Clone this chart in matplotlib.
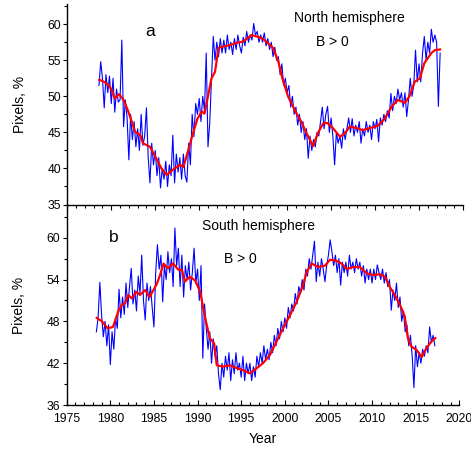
import numpy as np
import matplotlib
matplotlib.use("Agg")
import matplotlib.pyplot as plt
from matplotlib.ticker import MultipleLocator

plt.rcParams['font.family'] = ['Liberation Sans', 'DejaVu Sans']

# ---------------- North hemisphere (panel a) ----------------
north_start, north_step = 1978.6, 0.2
north_blue = [
    51.5, 54.8,
    52.5, 48.4, 53.0, 50.5, 52.8,   # 1979
    49.0, 52.5, 47.8, 51.0, 49.2,   # 1980
    49.5, 57.8, 45.8, 49.5, 47.0,   # 1981
    41.2, 47.5, 44.0, 46.5, 43.0,   # 1982
    45.5, 42.5, 47.5, 43.2, 44.5,   # 1983
    48.4, 41.5, 38.0, 43.5, 40.5,   # 1984
    42.5, 39.0, 41.5, 37.3, 40.0,   # 1985
    38.5, 41.0, 37.5, 40.5, 39.0,   # 1986
    44.6, 38.0, 42.0, 39.5, 41.5,   # 1987
    38.5, 42.0, 39.0, 38.1, 43.5,   # 1988
    40.5, 47.5, 44.4, 49.0, 47.5,   # 1989
    49.7, 46.5, 50.0, 48.0, 56.0,   # 1990
    43.0, 46.3, 52.5, 58.3, 55.0,   # 1991
    57.5, 55.5, 58.0, 56.0, 57.8,   # 1992
    56.0, 58.5, 56.5, 57.5, 55.8,   # 1993
    58.0, 56.5, 58.5, 57.0, 56.0,   # 1994
    58.2, 57.0, 59.0, 57.5, 58.5,   # 1995
    57.8, 60.1, 58.5, 59.0, 57.5,   # 1996
    58.5, 57.5, 58.8, 57.0, 58.0,   # 1997
    56.5, 57.5, 55.5, 56.8, 55.0,   # 1998
    55.5, 53.0, 54.5, 51.5, 52.5,   # 1999
    50.5, 51.5, 48.5, 50.0, 47.5,   # 2000
    48.5, 46.0, 47.5, 45.0, 46.5,   # 2001
    44.0, 45.5, 41.4, 44.5, 42.5,   # 2002
    44.0, 43.0, 45.0, 44.5, 46.5,   # 2003
    48.5, 45.5, 47.5, 48.6, 45.0,   # 2004
    47.0, 44.5, 40.5, 45.0, 43.5,   # 2005
    44.5, 42.8, 45.5, 44.0, 45.5,   # 2006
    47.0, 45.0, 46.9, 44.5, 46.0,   # 2007
    45.0, 46.5, 43.5, 45.5, 44.5,   # 2008
    46.5, 45.0, 46.0, 44.0, 46.5,   # 2009
    45.5, 46.8, 43.7, 47.0, 46.0,   # 2010
    47.5, 46.5, 48.0, 47.0, 50.4,   # 2011
    48.0, 50.0, 49.0, 51.0, 49.5,   # 2012
    50.5, 48.5, 50.5, 47.2, 49.5,   # 2013
    52.5, 50.0, 51.5, 56.4, 52.0,   # 2014
    54.5, 52.0, 56.0, 58.3, 55.0,   # 2015
    57.5, 56.0, 59.3, 57.5, 58.5,   # 2016
    57.5, 48.6, 56.0,               # 2017
]
north_red_years = [
    1978.64, 1979.2, 1979.66, 1980.0, 1980.4, 1980.9, 1981.4, 1981.9, 1982.3,
    1982.7, 1983.3, 1983.6, 1984.4, 1985.2, 1985.7, 1986.3, 1987.0, 1987.8,
    1988.2, 1988.75, 1989.3, 1989.8, 1990.3, 1990.6, 1991.0, 1991.4, 1991.8,
    1992.2, 1992.7, 1993.5, 1994.2, 1995.0, 1995.95, 1996.5, 1997.1, 1997.8,
    1998.4, 1999.0, 1999.5, 2000.1, 2000.9, 2001.6, 2002.2, 2002.95, 2003.5,
    2004.1, 2004.6, 2005.2, 2006.0, 2006.6, 2007.1, 2007.9, 2008.6, 2009.4,
    2010.3, 2011.1, 2011.9, 2012.6, 2013.4, 2013.9, 2014.5, 2015.1, 2015.6,
    2016.4, 2016.8, 2017.4,
]
north_red = [
    52.3, 52.0, 51.6, 51.0, 49.7, 50.3, 49.5, 48.0, 46.6,
    45.1, 44.6, 43.5, 43.0, 41.2, 40.0, 39.1, 39.8, 40.5,
    40.2, 42.5, 44.9, 46.9, 47.9, 47.6, 50.0, 52.5, 53.4,
    56.7, 56.9, 57.1, 57.4, 57.6, 58.5, 58.3, 58.1, 57.4,
    56.7, 54.8, 52.3, 50.0, 48.0, 46.5, 44.9, 43.1, 44.9,
    46.25, 46.3, 45.6, 44.4, 44.9, 45.8, 45.6, 45.3, 45.6,
    45.9, 46.9, 48.6, 49.5, 49.1, 50.0, 52.0, 52.5, 54.6,
    56.0, 56.4, 56.5,
]

# ---------------- South hemisphere (panel b) ----------------
south_start, south_step = 1978.4, 0.2
south_blue = [
    46.5, 48.5, 53.6,
    48.9, 45.8, 48.0, 44.5, 47.5,   # 1979
    41.8, 46.5, 44.0, 48.5, 47.0,   # 1980
    52.6, 48.5, 51.5, 49.0, 53.5,   # 1981
    50.0, 53.0, 55.6, 50.5, 52.5,   # 1982
    49.5, 54.5, 52.0, 57.5, 51.0,   # 1983
    48.2, 53.5, 51.0, 53.0, 50.0,   # 1984
    47.2, 55.0, 59.0, 55.5, 57.5,   # 1985
    50.8, 56.0, 54.0, 58.0, 55.0,   # 1986
    57.0, 53.0, 61.4, 56.0, 58.5,   # 1987
    53.0, 57.5, 51.5, 56.0, 54.0,   # 1988
    56.5, 52.5, 55.0, 58.5, 53.5,   # 1989
    55.5, 51.0, 56.0, 42.7, 50.5,   # 1990
    47.0, 44.0, 46.5, 42.0, 45.5,   # 1991
    43.0, 44.5, 40.5, 38.2, 42.0,   # 1992
    40.0, 43.0, 41.0, 43.5, 39.5,   # 1993
    42.5, 40.5, 43.5, 41.0, 42.0,   # 1994
    40.0, 43.0, 39.5, 42.0, 40.5,   # 1995
    42.0, 39.5, 41.5, 40.0, 43.0,   # 1996
    41.5, 43.5, 42.0, 44.5, 42.5,   # 1997
    44.0, 42.5, 45.0, 43.5, 46.0,   # 1998
    44.5, 47.0, 45.5, 48.0, 46.5,   # 1999
    48.5, 47.0, 50.0, 48.5, 50.5,   # 2000
    49.5, 52.0, 50.5, 53.0, 52.0,   # 2001
    54.0, 52.5, 55.5, 54.5, 57.0,   # 2002
    55.5, 57.5, 59.5, 53.7, 56.5,   # 2003
    54.5, 57.0, 55.5, 53.7, 56.0,   # 2004
    57.5, 59.7, 58.0, 56.0, 57.5,   # 2005
    55.0, 57.0, 53.2, 56.5, 55.0,   # 2006
    56.5, 54.5, 57.5, 55.5, 56.5,   # 2007
    55.0, 57.0, 55.5, 56.5, 54.5,   # 2008
    56.0, 53.5, 55.5, 54.0, 55.5,   # 2009
    53.5, 55.5, 54.0, 56.1, 55.0,   # 2010
    54.0, 55.5, 53.5, 55.0, 53.0,   # 2011
    54.0, 49.6, 52.5, 51.0, 53.5,   # 2012
    50.0, 51.5, 48.0, 49.5, 46.5,   # 2013
    47.5, 44.5, 46.0, 43.0, 38.5,   # 2014
    44.5, 41.5, 43.5, 42.0, 44.0,   # 2015
    43.0, 44.5, 43.5, 47.2, 45.0,   # 2016
    46.0, 44.5,                     # 2017
]
south_red_years = [
    1978.44, 1979.0, 1979.7, 1980.3, 1980.9, 1981.3, 1981.7, 1982.05, 1982.45,
    1983.0, 1983.4, 1984.0, 1984.5, 1985.3, 1985.7, 1986.1, 1986.6, 1987.2,
    1987.8, 1988.2, 1988.55, 1989.1, 1989.7, 1990.3, 1990.8, 1991.4, 1991.9,
    1992.2, 1992.9, 1993.7, 1994.5, 1995.2, 1996.0, 1996.8, 1997.5, 1998.3,
    1999.05, 1999.8, 2000.6, 2001.35, 2002.1, 2002.5, 2003.1, 2003.8, 2004.6,
    2005.2, 2005.9, 2006.5, 2007.1, 2007.8, 2008.6, 2009.4, 2010.1, 2010.9,
    2011.5, 2012.0, 2012.6, 2013.2, 2013.75, 2014.1, 2014.5, 2015.1, 2015.7,
    2016.2, 2016.8, 2017.25,
]
south_red = [
    48.5, 48.05, 47.0, 47.2, 49.4, 50.35, 50.6, 51.8, 51.3,
    52.25, 51.8, 52.5, 51.5, 53.3, 54.65, 56.3, 55.6, 56.3,
    55.4, 55.4, 53.7, 54.4, 53.9, 52.25, 48.9, 45.6, 44.85,
    41.7, 41.5, 41.7, 41.3, 41.0, 40.55, 41.3, 42.0, 43.2,
    45.1, 47.0, 48.9, 50.8, 53.2, 55.1, 56.3, 55.8, 56.0,
    56.85, 56.7, 56.3, 55.5, 55.8, 55.8, 54.9, 54.65, 54.75,
    54.4, 53.0, 51.8, 50.35, 48.7, 45.6, 44.4, 43.9, 42.9,
    44.1, 45.1, 45.6,
]

x_ticks = [1975, 1980, 1985, 1990, 1995, 2000, 2005, 2010, 2015, 2020]
top_yticks = [35, 40, 45, 50, 55, 60]
bot_yticks = [36, 42, 48, 54, 60]

W, H = 471, 453
fig = plt.figure(figsize=(W / 100, H / 100), dpi=100)

def px_axes(x0, y0, x1, y1):
    return fig.add_axes([x0 / W, 1 - y1 / H, (x1 - x0) / W, (y1 - y0) / H])

ax1 = px_axes(67.3, 4, 463, 204.5)
ax2 = px_axes(66.7, 205, 459.3, 405)
ax1.set_zorder(3)
ax1.patch.set_visible(False)

blue = '#0000FF'
red = '#FF0000'

nx = north_start + north_step * np.arange(len(north_blue))
sx = south_start + south_step * np.arange(len(south_blue))

ax1.plot(nx, north_blue, color=blue, lw=0.8)
ax1.plot(north_red_years, north_red, color=red, lw=1.6)
ax2.plot(sx, south_blue, color=blue, lw=0.8)
ax2.plot(south_red_years, south_red, color=red, lw=1.6)

ax1.set_xlim(1975, 2020)
ax1.set_ylim(35, 62.8)
ax2.set_xlim(1975, 2020)
ax2.set_ylim(36, 64.7)

for ax in (ax1, ax2):
    ax.spines['right'].set_visible(False)
    ax.spines['top'].set_visible(False)
    for s in ('left', 'bottom'):
        ax.spines[s].set_linewidth(1.0)
        ax.spines[s].set_color('black')
    ax.set_xticks(x_ticks)
    ax.xaxis.set_minor_locator(MultipleLocator(1))
    ax.set_ylabel('Pixels, %', fontsize=10)
    ax.yaxis.set_label_coords(-0.103, 0.5)
    ax.tick_params(axis='y', which='major', direction='out', length=3, width=0.8,
                   labelsize=8.7, pad=1.5)
    ax.tick_params(axis='y', which='minor', direction='out', length=2, width=0.8)

ax1.set_yticks(top_yticks)
ax1.yaxis.set_minor_locator(MultipleLocator(2.5))
ax2.set_yticks(bot_yticks)
ax2.yaxis.set_minor_locator(MultipleLocator(3))

ax1.tick_params(axis='x', which='major', direction='out', length=3.5, width=0.8,
                labelbottom=False)
ax1.tick_params(axis='x', which='minor', direction='out', length=2, width=0.8)
ax2.tick_params(axis='x', which='major', direction='in', length=3.5, width=0.8,
                labelsize=8.7, pad=5.5)
ax2.tick_params(axis='x', which='minor', direction='in', length=2, width=0.8)
ax2.set_xlabel('Year', fontsize=10, labelpad=5.5)

def ftext(x, y, s, size, **kw):
    fig.text(x / W, 1 - y / H, s, fontsize=size, ha='center', va='center', **kw)

ftext(150, 32, 'a', 12.5)
ftext(349, 18, 'North hemisphere', 10)
ftext(332, 42, 'B > 0', 10)
ftext(259, 226, 'South hemisphere', 10)
ftext(114, 238, 'b', 12.5)
ftext(240, 259, 'B > 0', 10)

fig.savefig('out.png', dpi=100)
